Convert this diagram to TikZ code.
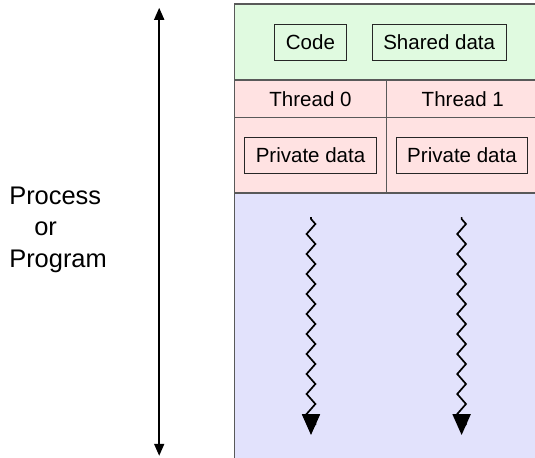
\documentclass[tikz,border=0pt]{standalone}
\usepackage{fontspec}
\setmainfont{Liberation Sans}
\usetikzlibrary{arrows.meta, decorations.pathmorphing, positioning}

\definecolor{vertclair}{RGB}{224,250,224}
\definecolor{roseclair}{RGB}{255,226,226}
\definecolor{bleuclair}{RGB}{226,226,252}

\begin{document}
\begin{tikzpicture}[
    zone/.style={draw=black!65, line width=1pt},
    boite/.style={draw=black!85, line width=0.7pt, inner xsep=0.28cm, inner ysep=0pt, minimum height=0.9cm, font=\fontsize{14.6}{17}\selectfont},
    titre/.style={font=\fontsize{14.6}{17}\selectfont},
    fil/.style={line width=1.2pt, decorate, decoration={zigzag, segment length=0.5cm, amplitude=0.11cm, pre length=0.05cm, post length=0.15cm}, -{Triangle[length=0.52cm, width=0.45cm]}}
  ]
    \useasboundingbox (0,0) rectangle (13.375,11.425);
    % Dessin des zones du processus
    \begin{scope}
        \clip (0,0) rectangle (13.375,11.425);
        \draw[zone, fill=bleuclair] (5.857,-1) rectangle (13.475,6.6);
        \draw[zone, fill=roseclair] (5.857,6.6) rectangle (13.475,9.425);
        \draw[zone, fill=vertclair] (5.857,9.425) rectangle (13.475,11.325);
        \draw[zone] (5.857,8.483) -- (13.475,8.483);
        \draw[zone] (9.667,6.6) -- (9.667,9.425);
    \end{scope}
    % Partie commune
    \node[boite] (code) at (7.76,10.375) {Code};
    \node[boite] (partage) at (10.98,10.375) {Shared data};
    % Les deux threads
    \node[titre] (t0) at (7.7625,8.954) {Thread 0};
    \node[titre] (t1) at (11.57,8.954) {Thread 1};
    \node[boite] (prive0) at (7.763,7.5375) {Private data};
    \node[boite] (prive1) at (11.55,7.5375) {Private data};
    % Fils d'execution
    \coordinate (d0) at (7.775,6.0);
    \coordinate (f0) at (7.775,0.55);
    \coordinate (d1) at (11.54,6.0);
    \coordinate (f1) at (11.54,0.55);
    \draw[fil] (d0) -- (f0);
    \draw[fil] (d1) -- (f1);
    % Fleche verticale et etiquette
    \coordinate (haut) at (3.98,11.23);
    \coordinate (bas) at (3.98,0.03);
    \draw[line width=1.2pt, {Triangle[length=0.3cm, width=0.25cm]}-{Triangle[length=0.3cm, width=0.25cm]}] (bas) -- (haut);
    \node[anchor=west, align=left, inner sep=0pt, font=\fontsize{18.1}{22.5}\selectfont] (proc) at (0.225,5.68) {Process\\\hspace*{0.625cm}or\\Program};
\end{tikzpicture}
\end{document}
